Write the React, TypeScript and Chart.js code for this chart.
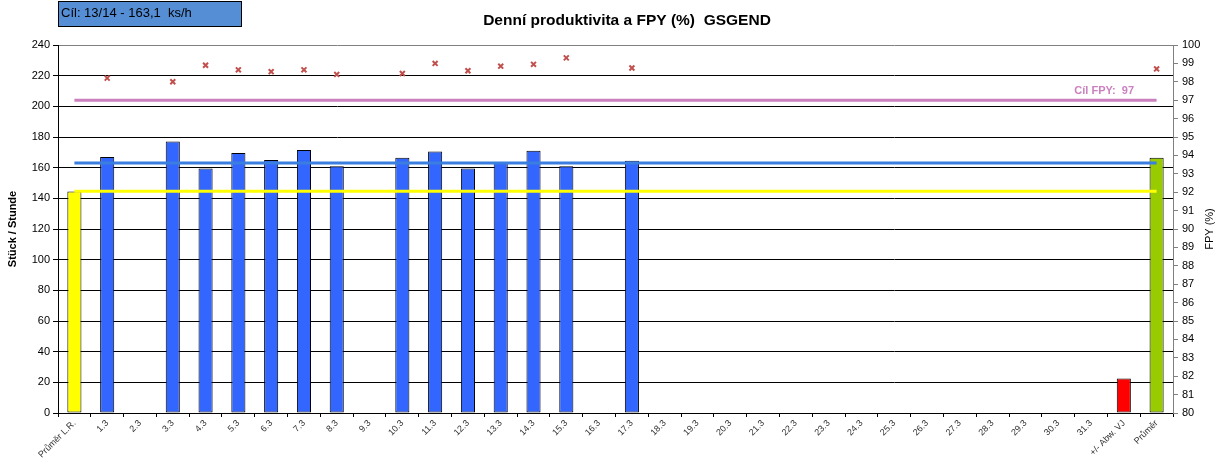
import { useEffect, useRef } from "react";
import { Chart, registerables } from "chart.js";

Chart.register(...registerables);

const categories: string[] = [
  "Průměr L.R.",
  "1.3", "2.3", "3.3", "4.3", "5.3", "6.3", "7.3", "8.3", "9.3", "10.3",
  "11.3", "12.3", "13.3", "14.3", "15.3", "16.3", "17.3", "18.3", "19.3", "20.3",
  "21.3", "22.3", "23.3", "24.3", "25.3", "26.3", "27.3", "28.3", "29.3", "30.3", "31.3",
  "+/- Abw. VJ",
  "Průměr",
];

const productivity: (number | null)[] = [
  144.5,
  167, null, 177, 159.5, 169.5, 165, 171.5, 161, null, 166.5,
  170.5, 159.5, 163.5, 171, 161, null, 164.5, null, null, null,
  null, null, null, null, null, null, null, null, null, null, null,
  22.5,
  166.5,
];

const fpy: (number | null)[] = [
  null,
  98.2, null, 98.0, 98.9, 98.65, 98.55, 98.65, 98.4, null, 98.45,
  99.0, 98.6, 98.85, 98.95, 99.3, null, 98.75, null, null, null,
  null, null, null, null, null, null, null, null, null, null, null,
  null,
  98.7,
];

const TARGET_PROD = 163.1;
const AVG_LR = 144.6;
const TARGET_FPY = 97;

const leftTicks = { min: 0, max: 240, step: 20 };
const rightTicks = { min: 80, max: 100, step: 1 };

const FONT = "'Liberation Sans', Arial, sans-serif";

function barColor(i: number): string {
  if (i === 0) return "#ffff00";
  if (i === categories.length - 2) return "#ff0000";
  if (i === categories.length - 1) return "#99cc00";
  return "#3366ff";
}

const overlayPlugin = {
  id: "overlay",
  afterDatasetsDraw(chart: any) {
    const { ctx } = chart;
    const x = chart.scales.x;
    const y = chart.scales.y;
    const y1 = chart.scales.y1;
    const x0 = x.getPixelForValue(0);
    const x1 = x.getPixelForValue(categories.length - 1);
    const drawLine = (py: number, color: string) => {
      ctx.save();
      ctx.strokeStyle = color;
      ctx.lineWidth = 3;
      ctx.beginPath();
      ctx.moveTo(x0, py);
      ctx.lineTo(x1, py);
      ctx.stroke();
      ctx.restore();
    };
    drawLine(y1.getPixelForValue(TARGET_FPY), "#cc80c0");
    drawLine(y.getPixelForValue(TARGET_PROD), "#3a7fe0");
    drawLine(y.getPixelForValue(AVG_LR), "#ffff00");

    ctx.save();
    ctx.fillStyle = "#cc80c0";
    ctx.font = `bold 11px ${FONT}`;
    ctx.textAlign = "right";
    ctx.textBaseline = "middle";
    ctx.fillText(`Cíl FPY:  ${TARGET_FPY}`, 1134, y1.getPixelForValue(TARGET_FPY) - 9);
    ctx.restore();
  },
  afterDraw(chart: any) {
    const { ctx } = chart;
    ctx.save();
    // target box
    ctx.fillStyle = "#558ed5";
    ctx.fillRect(58, 1, 183, 25);
    ctx.strokeStyle = "#000";
    ctx.lineWidth = 1;
    ctx.strokeRect(58.5, 1.5, 183, 25);
    ctx.fillStyle = "#000";
    ctx.font = `13px ${FONT}`;
    ctx.textAlign = "left";
    ctx.textBaseline = "middle";
    ctx.fillText("Cíl: 13/14 - 163,1  ks/h", 61, 13);

    // title
    ctx.font = `bold 15.5px ${FONT}`;
    ctx.textAlign = "center";
    ctx.fillText("Denní produktivita a FPY (%)  GSGEND", 627, 21);

    // axis titles
    ctx.save();
    ctx.translate(13, 229);
    ctx.rotate(-Math.PI / 2);
    ctx.font = `bold 11px ${FONT}`;
    ctx.fillText("Stück / Stunde", 0, 0);
    ctx.restore();

    ctx.save();
    ctx.translate(1210, 229);
    ctx.rotate(-Math.PI / 2);
    ctx.font = `11px ${FONT}`;
    ctx.fillText("FPY (%)", 0, 0);
    ctx.restore();
    ctx.restore();
  },
};

export default function App() {
  const ref = useRef<HTMLCanvasElement | null>(null);
  useEffect(() => {
    if (!ref.current) return;
    const chart = new Chart(ref.current, {
      type: "bar",
      data: {
        labels: categories,
        datasets: [
          {
            type: "line",
            label: "FPY",
            data: fpy,
            yAxisID: "y1",
            showLine: false,
            pointStyle: "crossRot",
            pointRadius: 3.5,
            pointBorderWidth: 2,
            borderColor: "#c0504d",
            backgroundColor: "#c0504d",
            order: 0,
          } as any,
          {
            type: "bar",
            label: "Produktivita",
            data: productivity,
            yAxisID: "y",
            backgroundColor: categories.map((_, i) => barColor(i)),
            borderColor: "#000",
            borderWidth: 1,
            borderSkipped: false,
            categoryPercentage: 1,
            barPercentage: 0.43,
            order: 1,
          } as any,
        ],
      },
      options: {
        responsive: false,
        animation: false,
        layout: { padding: { top: 45, left: 0, right: 0, bottom: 0 } },
        plugins: { legend: { display: false }, title: { display: false }, tooltip: { enabled: false } },
        scales: {
          x: {
            type: "category",
            offset: true,
            grid: { offset: true, drawOnChartArea: false, drawTicks: true, tickLength: 4, color: "#000" },
            border: { color: "#000" },
            ticks: {
              autoSkip: false,
              minRotation: 45,
              maxRotation: 45,
              padding: 1,
              color: "#333",
              font: { family: FONT, size: 9 },
            },
            afterFit: (s: any) => { s.height = 59; },
          },
          y: {
            position: "left",
            min: leftTicks.min,
            max: leftTicks.max,
            ticks: { stepSize: leftTicks.step, padding: 3, color: "#000", font: { family: FONT, size: 11 } },
            grid: {
              color: (c: any) => (c.tick && c.tick.value === leftTicks.max ? "#808080" : "#000"),
              tickColor: "#000",
              tickLength: 5,
            },
            border: { color: "#000" },
            afterFit: (s: any) => { s.width = 58; },
          },
          y1: {
            position: "right",
            min: rightTicks.min,
            max: rightTicks.max,
            ticks: { stepSize: rightTicks.step, padding: 4, color: "#000", font: { family: FONT, size: 11 } },
            grid: { drawOnChartArea: false, color: "#808080", tickLength: 5 },
            border: { color: "#808080" },
            afterFit: (s: any) => { s.width = 44; },
          },
        },
      },
      plugins: [overlayPlugin],
    });
    return () => chart.destroy();
  }, []);
  return (
    <div style={{ position: "fixed", left: 0, top: 0, width: 1217, height: 472, background: "#fff" }}>
      <canvas ref={ref} width={1217} height={472} style={{ display: "block" }} />
    </div>
  );
}
